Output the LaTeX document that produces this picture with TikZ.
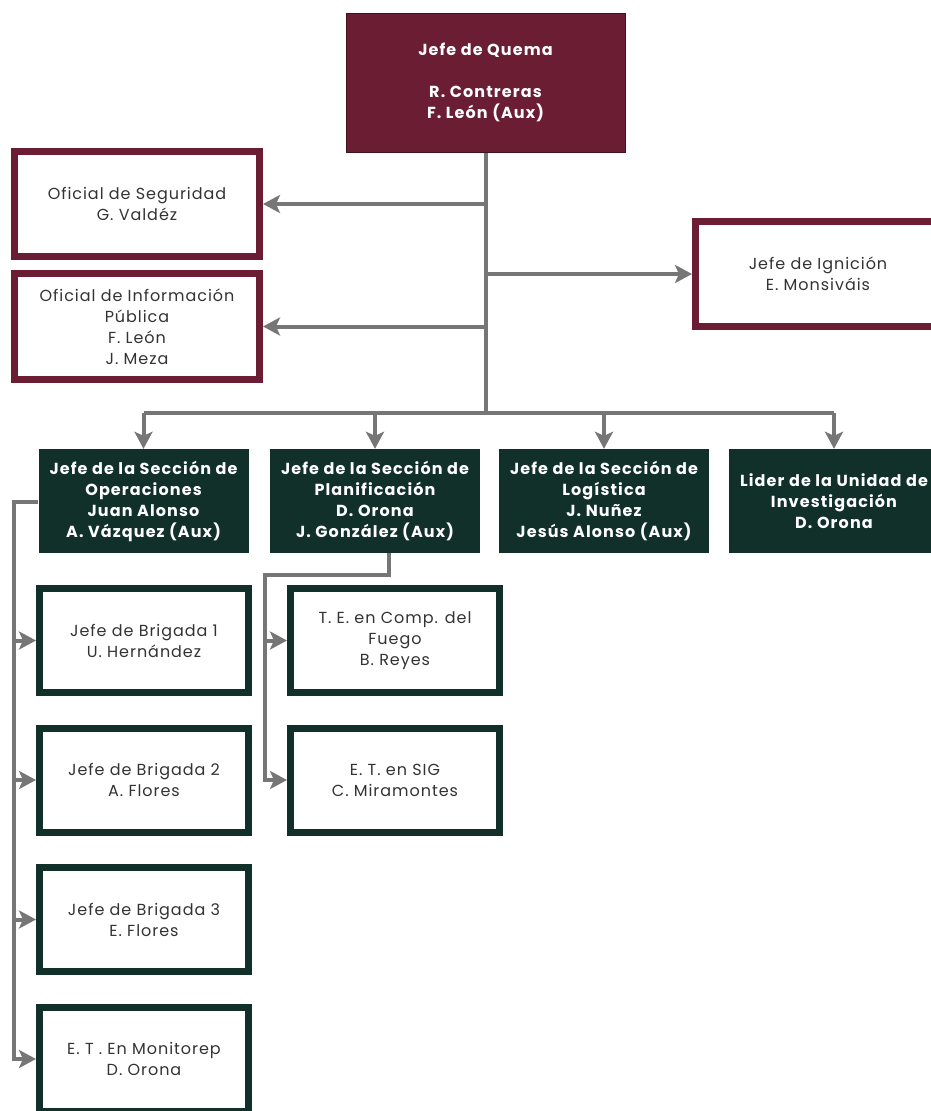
\documentclass[tikz,border=0pt]{standalone}
\usepackage{fontspec}
\setmainfont{Poppins}[LetterSpace=6, BoldFeatures={LetterSpace=7}]
\usetikzlibrary{arrows.meta,positioning}
\definecolor{guinda}{HTML}{6A1D33}
\definecolor{verde}{HTML}{12302A}
\definecolor{gris}{HTML}{767676}
\definecolor{texto}{HTML}{333333}
\tikzset{
    jefebox/.style={fill=guinda, draw=guinda!60!black, line width=1pt, text=white, font=\bfseries\fontsize{16}{21}\selectfont, align=center, minimum width=279pt, minimum height=139pt, inner sep=0pt},
    rojobox/.style={draw=guinda, line width=7pt, fill=white, text=texto, font=\fontsize{16}{21}\selectfont, align=center, minimum width=245pt, minimum height=105pt, inner sep=0pt},
    seccion/.style={fill=verde, text=white, font=\bfseries\fontsize{16}{21}\selectfont, align=center, minimum width=210pt, minimum height=104pt, inner sep=0pt},
    subbox/.style={draw=verde, line width=7pt, fill=white, text=texto, font=\fontsize{16}{21}\selectfont, align=center, minimum width=209pt, minimum height=104pt, inner sep=0pt},
    liga/.style={draw=gris, line width=4pt},
    flecha/.style={liga, -{Stealth[length=17pt,width=18pt,inset=4pt]}}
}

\begin{document}
\begin{tikzpicture}[x=1pt,y=-1pt]
            \useasboundingbox (0,0) rectangle (931,1111);
            \clip (0,0) rectangle (931,1111);
            \node[jefebox] (jefe) at (485.5,82.5) {Jefe de Quema\\[21pt]R. Contreras\\F. León (Aux)};
            \node[rojobox] (seg) at (137,204) {Oficial de Seguridad\\G. Valdéz};
            \node[rojobox, minimum height=106pt] (info) at (137,326.5) {Oficial de Información\\Pública\\F. León\\J. Meza};
            \node[rojobox] (ign) at (818,274) {Jefe de Ignición\\E. Monsiváis};
            \node[seccion] (ops) at (143.5,501) {Jefe de la Sección de\\Operaciones\\Juan Alonso\\A. Vázquez (Aux)};
            \node[seccion] (plan) at (375,501) {Jefe de la Sección de\\Planificación\\D. Orona\\J. González (Aux)};
            \node[seccion] (log) at (604,501) {Jefe de la Sección de\\Logística\\J. Nuñez\\Jesús Alonso (Aux)};
            \node[seccion] (lid) at (834,501) {Lider de la Unidad de\\Investigación\\D. Orona};
            \node[subbox] (bri1) at (144,640.5) {Jefe de Brigada 1\\U. Hernández};
            \node[subbox] (bri2) at (144,780) {Jefe de Brigada 2\\A. Flores};
            \node[subbox] (bri3) at (144,919.5) {Jefe de Brigada 3\\E. Flores};
            \node[subbox] (mon) at (144,1059) {E. T . En Monitorep\\D. Orona};
            \node[subbox] (tec) at (395,640.5) {T. E. en Comp. del\\Fuego\\B. Reyes};
            \node[subbox] (sig) at (395,780) {E. T. en SIG\\C. Miramontes};
            \coordinate (hub) at (486,413);
            \coordinate (opsrail) at (14,502);
            \coordinate (planrail) at (265,575);
            \draw[liga] (jefe.south -| hub) -- (hub);
            \draw[flecha] (hub |- seg) -- (seg.east);
            \draw[flecha] (hub |- info) -- (info.east);
            \draw[flecha] (hub |- ign) -- (ign.west);
            \draw[liga] (ops.north |- hub) -- (lid.north |- hub);
            \foreach \s in {ops,plan,log,lid}
                \draw[flecha] (\s.north |- hub) -- (\s.north);
            \draw[flecha] (ops.west |- opsrail) -- (opsrail) -- (opsrail |- mon) -- (mon.west);
            \foreach \b in {bri1,bri2,bri3}
                \draw[flecha] (opsrail |- \b) -- (\b.west);
            \draw[flecha] ([xshift=14pt]plan.south) -- ([xshift=14pt]plan.south |- planrail) -- (planrail) -- (planrail |- sig) -- (sig.west);
            \draw[flecha] (planrail |- tec) -- (tec.west);
        \end{tikzpicture}
\end{document}
